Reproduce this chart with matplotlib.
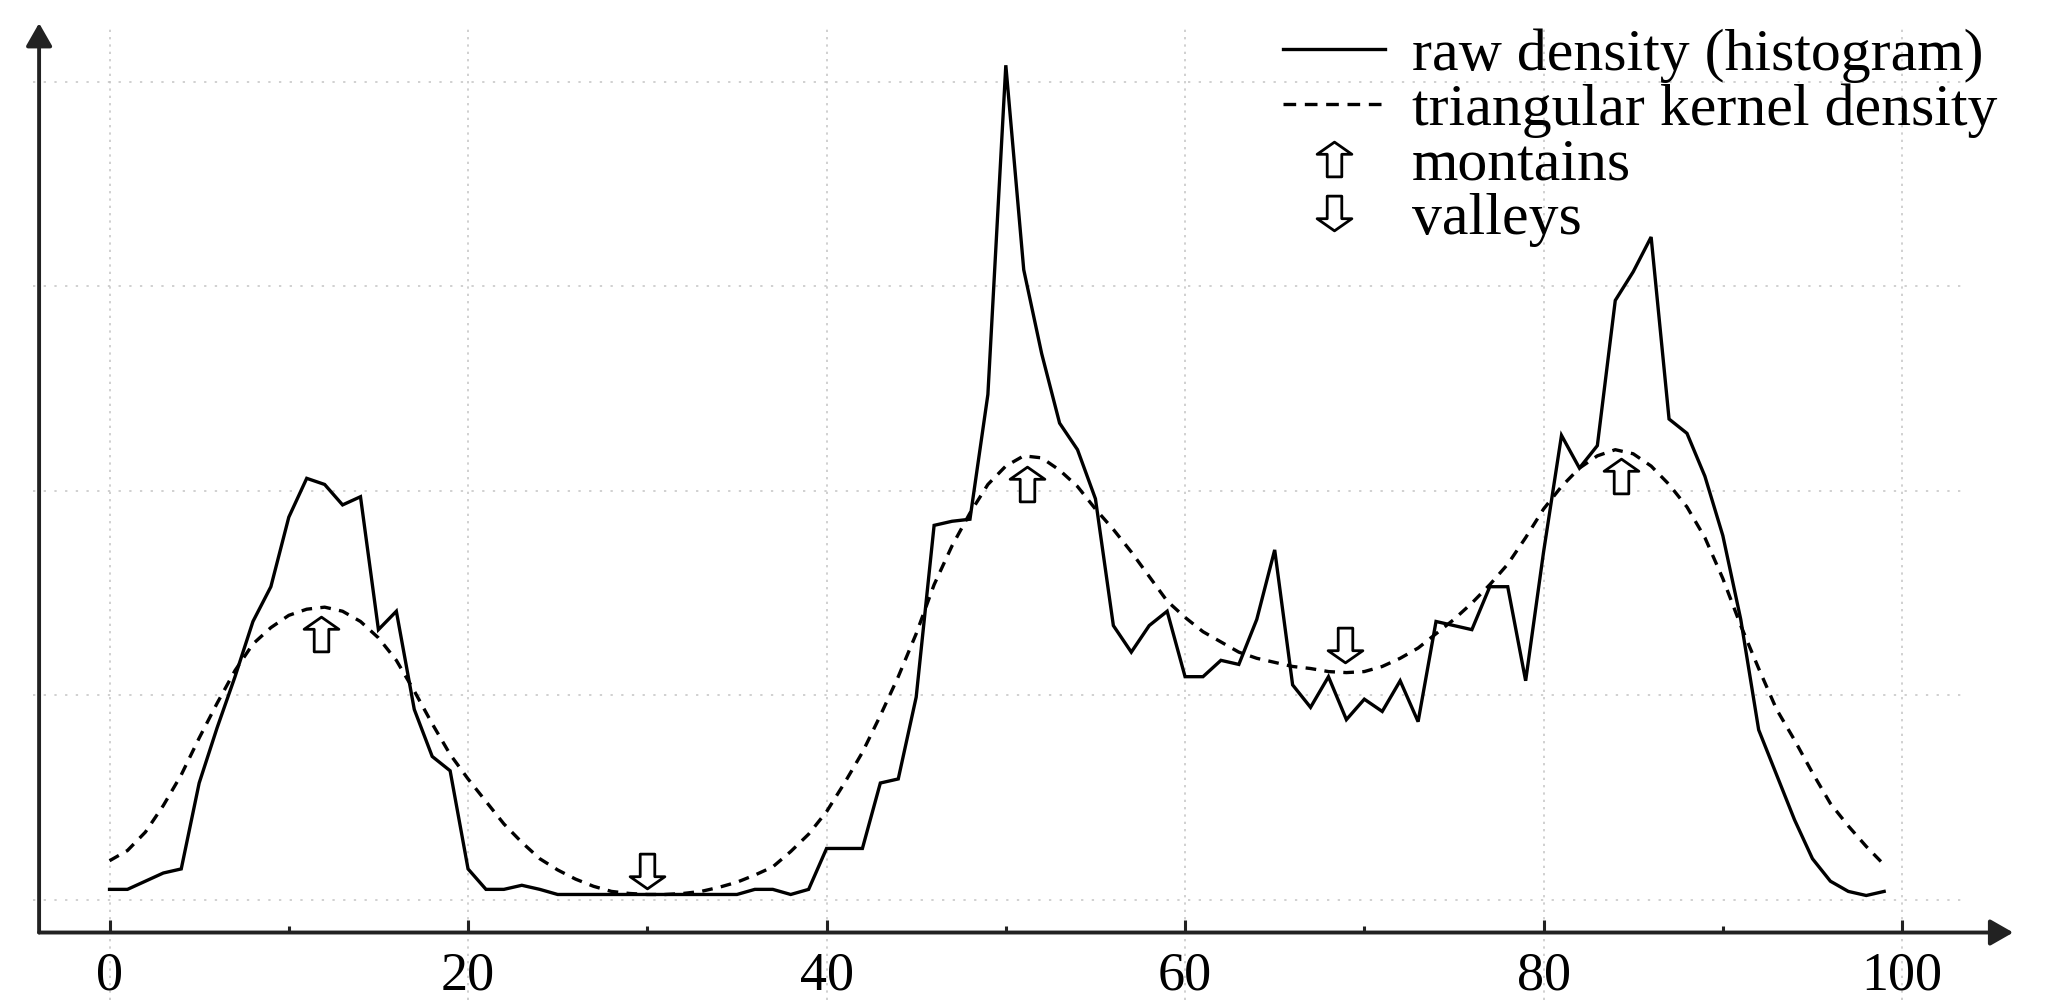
import matplotlib
matplotlib.use("Agg")
import matplotlib.pyplot as plt
from matplotlib.path import Path
from matplotlib.lines import Line2D

plt.rcParams['font.family'] = ['Liberation Serif', 'DejaVu Serif']

# ---------------- data ----------------
bins = list(range(100))
raw_density = [0.05, 0.05, 0.09, 0.13, 0.15, 0.57, 0.84, 1.09, 1.36, 1.53,
               1.87, 2.06, 2.03, 1.93, 1.97, 1.32, 1.41, 0.93, 0.70, 0.63,
               0.15, 0.05, 0.05, 0.07, 0.05, 0.025, 0.025, 0.025, 0.025, 0.025,
               0.025, 0.025, 0.025, 0.025, 0.025, 0.025, 0.05, 0.05, 0.025, 0.05,
               0.25, 0.25, 0.25, 0.57, 0.59, 0.99, 1.83, 1.85, 1.86, 2.47,
               4.08, 3.08, 2.67, 2.33, 2.20, 1.96, 1.34, 1.21, 1.34, 1.41,
               1.09, 1.09, 1.17, 1.15, 1.37, 1.71, 1.05, 0.94, 1.09, 0.88,
               0.98, 0.92, 1.07, 0.87, 1.36, 1.34, 1.32, 1.53, 1.53, 1.07,
               1.70, 2.27, 2.11, 2.22, 2.93, 3.07, 3.24, 2.35, 2.28, 2.07,
               1.78, 1.37, 0.83, 0.61, 0.39, 0.20, 0.09, 0.04, 0.02, 0.04]
kernel_density = [0.19, 0.24, 0.33, 0.46, 0.61, 0.79, 0.96, 1.12, 1.25, 1.33,
                  1.39, 1.42, 1.43, 1.41, 1.36, 1.28, 1.17, 1.02, 0.86, 0.71,
                  0.59, 0.48, 0.37, 0.28, 0.20, 0.145, 0.10, 0.065, 0.04, 0.03,
                  0.025, 0.025, 0.03, 0.04, 0.06, 0.085, 0.12, 0.16, 0.235, 0.32,
                  0.43, 0.57, 0.72, 0.90, 1.09, 1.30, 1.54, 1.73, 1.89, 2.03,
                  2.12, 2.17, 2.16, 2.10, 2.02, 1.91, 1.81, 1.70, 1.58, 1.46,
                  1.38, 1.31, 1.26, 1.21, 1.18, 1.16, 1.14, 1.13, 1.115, 1.11,
                  1.115, 1.14, 1.18, 1.23, 1.30, 1.37, 1.45, 1.54, 1.64, 1.77,
                  1.91, 2.02, 2.11, 2.17, 2.20, 2.18, 2.12, 2.03, 1.92, 1.77,
                  1.57, 1.34, 1.13, 0.93, 0.78, 0.62, 0.47, 0.36, 0.26, 0.17]
mountain_x = [11.8, 51.2, 84.3]
mountain_y = [1.30, 2.03, 2.07]
valley_x = [30.0, 68.9]
valley_y = [0.14, 1.245]

labels = ["raw density (histogram)", "triangular kernel density",
          "montains", "valleys"]
major_ticks = [0, 20, 40, 60, 80, 100]
minor_ticks = [10, 30, 50, 70, 90]
tick_labels = ["0", "20", "40", "60", "80", "100"]
grid_levels = [0, 1, 2, 3, 4]

# ---------------- figure ----------------
W, H = 2056, 1002
fig = plt.figure(figsize=(W / 100, H / 100), dpi=100)
ax = fig.add_axes([33 / W, 2 / H, (1965 - 33) / W, (1000 - 27) / H])
ax.set_xlim(-4.27, 103.51)
ax.set_ylim(-0.491, 4.267)

axis_y = -0.161
axis_x = -3.93

for s in ax.spines.values():
    s.set_visible(False)
ax.spines['bottom'].set_position(('data', axis_y))

ax.set_xticks(major_ticks)
ax.set_xticklabels(tick_labels)
ax.set_xticks(minor_ticks, minor=True)
ax.set_yticks(grid_levels)
ax.tick_params(axis='x', which='major', direction='in', length=9.5, width=2.2,
               pad=13, labelsize=39, color='#222222')
ax.tick_params(axis='x', which='minor', direction='in', length=5, width=2.2,
               color='#222222')
ax.tick_params(axis='y', length=0, labelleft=False)

ax.set_axisbelow(True)
ax.grid(True, axis='x', which='major', color='#c4c4c4', lw=1.1,
        ls=(0, (1.5, 3.3)))
ax.grid(True, axis='y', which='major', color='#c4c4c4', lw=1.1,
        ls=(0, (1.5, 5.5)))

# axes with arrow heads
arrow_kw = dict(arrowstyle='-|>,head_length=0.7,head_width=0.4', lw=2.8,
                color='#222222', mutation_scale=20, shrinkA=0, shrinkB=0)
ax.annotate('', xy=(106.2, axis_y), xytext=(axis_x, axis_y),
            arrowprops=arrow_kw, annotation_clip=False)
ax.annotate('', xy=(axis_x, 4.286), xytext=(axis_x, axis_y),
            arrowprops=arrow_kw, annotation_clip=False)

# curves
ax.plot(bins, raw_density, color='black', lw=2.4, solid_joinstyle='miter')
ax.plot(bins, kernel_density, color='black', lw=2.4, ls=(0, (3.2, 2.5)))

# hollow block arrows
up_verts = [(-0.21, -0.5), (0.21, -0.5), (0.21, 0.15), (0.5, 0.15),
            (0.0, 0.5), (-0.5, 0.15), (-0.21, 0.15), (-0.21, -0.5)]
up_codes = [Path.MOVETO] + [Path.LINETO] * 6 + [Path.CLOSEPOLY]
up_marker = Path(up_verts, up_codes)
down_marker = Path([(x, -y) for x, y in up_verts], up_codes)

mk = dict(ls='none', ms=25, mfc='white', mec='black', mew=2.0)
ax.plot(mountain_x, mountain_y, marker=up_marker, **mk)
ax.plot(valley_x, valley_y, marker=down_marker, **mk)

handles = [Line2D([], [], color='black', lw=2.4),
           Line2D([], [], color='black', lw=2.4, ls=(0, (3.8, 2.6))),
           Line2D([], [], marker=up_marker, **mk),
           Line2D([], [], marker=down_marker, **mk)]
ax.legend(handles, labels, loc='upper left',
          bbox_to_anchor=(1283 / W, 1 - 28 / H), bbox_transform=fig.transFigure,
          frameon=False, fontsize=43, handlelength=1.7, handletextpad=0.46,
          labelspacing=0.0, borderpad=0, borderaxespad=0, numpoints=1)

fig.savefig('out.png', dpi=100)
